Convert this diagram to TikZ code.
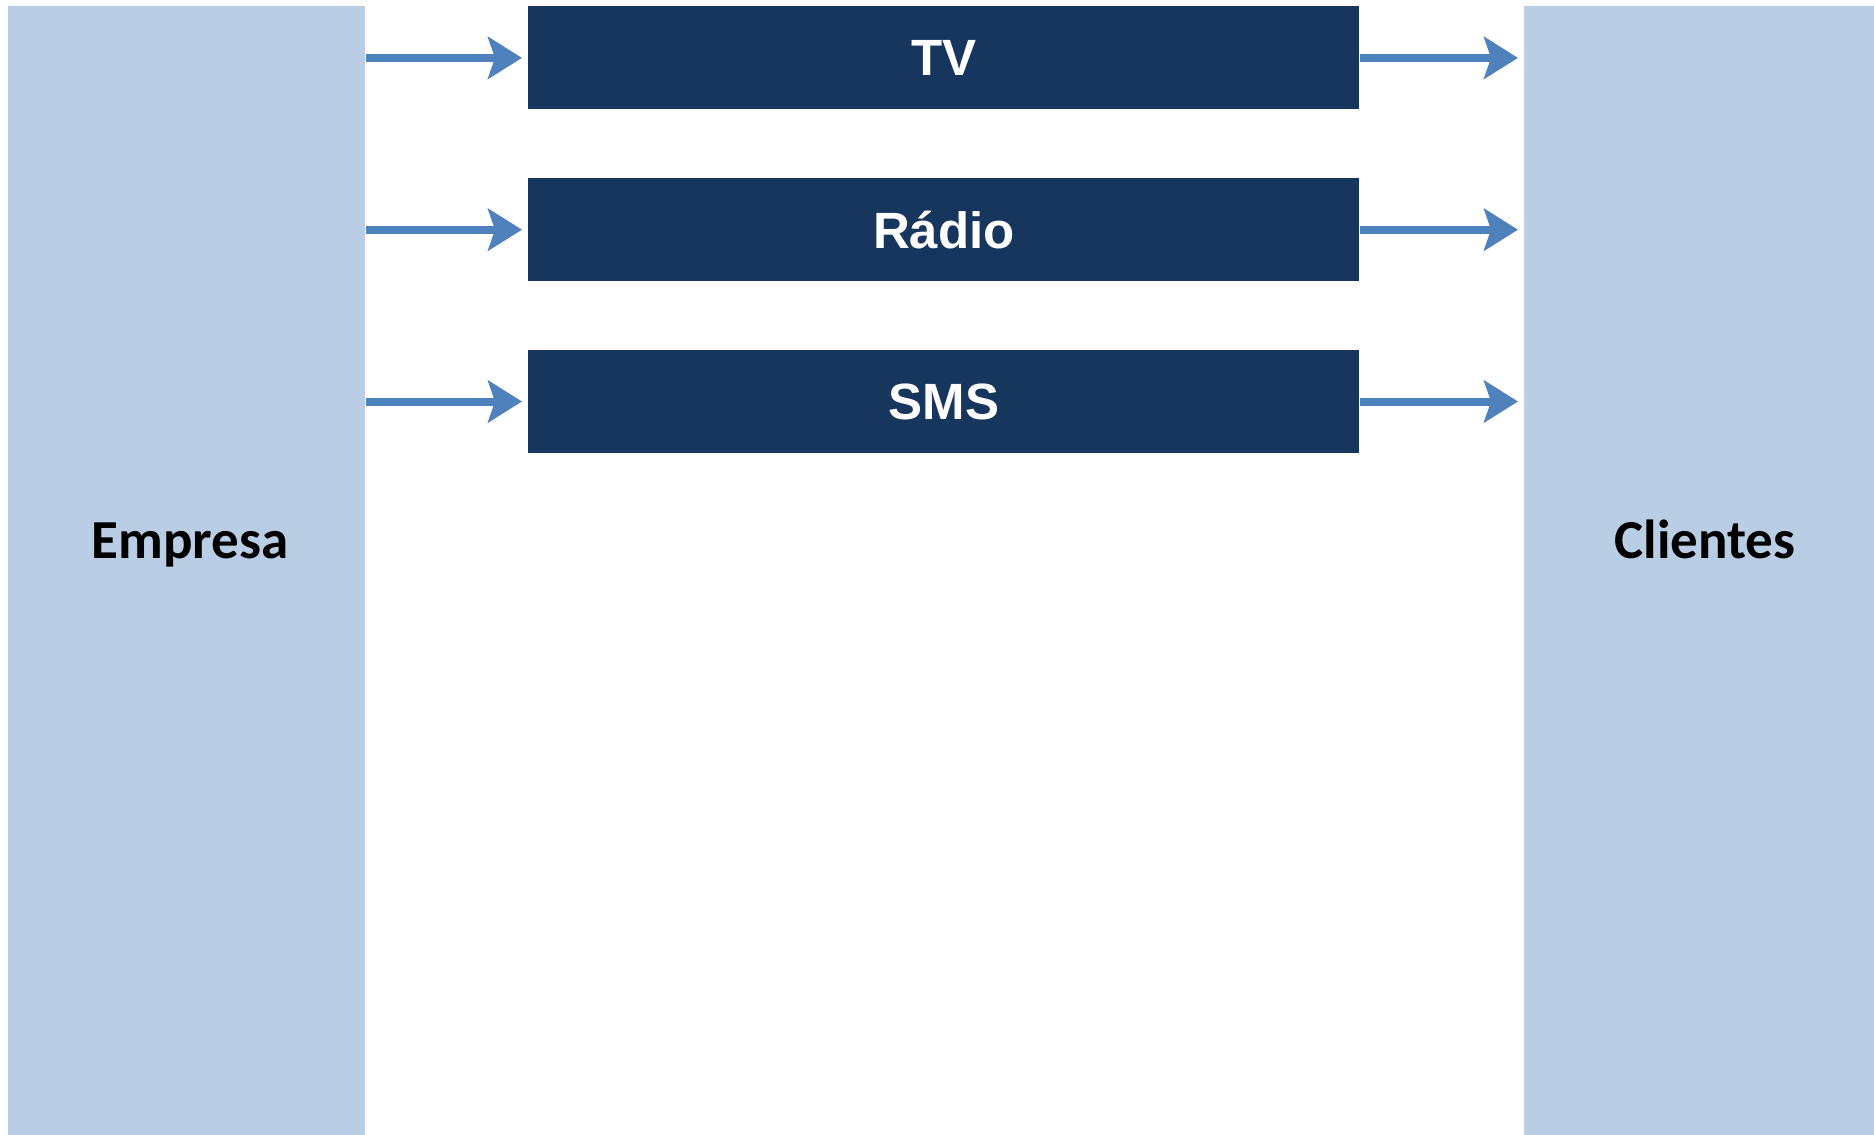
\documentclass[tikz,border=0pt]{standalone}
\usepackage{fontspec}
\setmainfont{Liberation Sans}
\newfontfamily\calibri{Carlito}
\usetikzlibrary{positioning,arrows.meta,calc}
\definecolor{panelblue}{HTML}{B9CDE5}
\definecolor{navy}{HTML}{17365D}
\definecolor{arrowblue}{HTML}{4F81BD}
\tikzset{
  panel/.style={fill=panelblue,draw=none,anchor=north west,minimum width=178.5pt,minimum height=564.5pt,inner sep=0pt},
  panellabel/.style={font=\calibri\bfseries\fontsize{27.5}{30}\selectfont,text=black,anchor=base},
  channel/.style={fill=navy,draw=none,anchor=north west,minimum width=415.5pt,minimum height=51.5pt,inner sep=0pt,
    text=white,font=\bfseries\fontsize{25.5}{28}\selectfont},
  every edge/.style={draw,arrowblue,line width=4pt,-{Stealth[length=17pt,width=21pt,inset=3.5pt]}},
}
\begin{document}
\begin{tikzpicture}[x=0.5pt,y=-0.5pt]
\useasboundingbox (0,0) rectangle (1874,1135);

\node[panel] (emp) at (8,6) {};
\node[panel,minimum width=175pt] (cli) at (1524,6) {};
\node[panellabel] (empname) at (190,558) {Empresa};
\node[panellabel] (cliname) at (1705,558) {Clientes};

\node[channel] (tv) at (528,6) {TV};
\node[channel,below=34pt of tv.south west,anchor=north west] (radio) {Rádio};
\node[channel,below=34pt of radio.south west,anchor=north west] (sms) {SMS};

\path
(tv.west -| emp.east) edge[shorten >=3pt] (tv.west)
(radio.west -| emp.east) edge[shorten >=3pt] (radio.west)
(sms.west -| emp.east) edge[shorten >=3pt] (sms.west)
(tv.east) edge ($(tv.east -| cli.west)+(-6,0)$)
(radio.east) edge ($(radio.east -| cli.west)+(-6,0)$)
(sms.east) edge ($(sms.east -| cli.west)+(-6,0)$);

\end{tikzpicture}
\end{document}
